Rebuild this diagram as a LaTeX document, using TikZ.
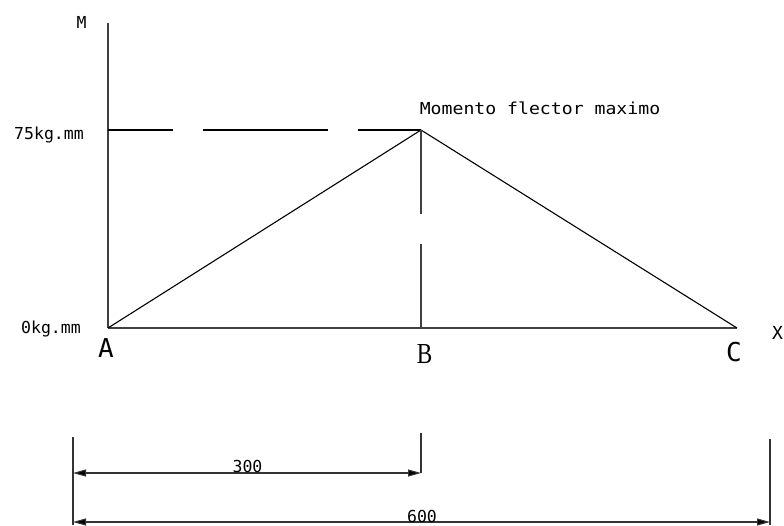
\documentclass[tikz,border=0pt]{standalone}
\usepackage{fontspec}
\setmonofont{DejaVu Sans Mono}
\newfontfamily\serifB{Liberation Serif}
\usetikzlibrary{arrows.meta}
\begin{document}
\begin{tikzpicture}[x=1pt,y=-1pt,
  axis/.style={draw=black!75, line width=1.1pt},
  diag/.style={draw=black, line width=1.1pt},
  dimline/.style={draw=black!80, line width=1.1pt},
  dimarrow/.style={dimline, {Triangle[length=13pt,width=7pt,fill=black]}-{Triangle[length=13pt,width=7pt,fill=black]}},
  lbl/.style={font=\ttfamily\fontsize{16.5}{18}\selectfont, anchor=base, inner sep=0pt},
  big/.style={font=\ttfamily\fontsize{26}{28}\selectfont, anchor=base, inner sep=0pt}]
\useasboundingbox (0,0) rectangle (784,525);
% points
\coordinate (O) at (108,328);
\coordinate (Mtop) at (108,23);
\coordinate (P) at (421,130);
\coordinate (Bb) at (421,328);
\coordinate (Cc) at (737,328);
\coordinate (Yp) at (108,130);
% axes
\draw[axis] (Mtop) -- (O);
\draw[axis] (O) -- (Cc);
% moment diagram
\draw[diag] (O) -- (P) -- (Cc);
% dashed guides
\draw[diag, dash pattern=on 65pt off 30pt on 125pt off 30pt on 70pt] (Yp) -- (P);
\draw[axis, dash pattern=on 84pt off 30pt on 90pt] (P) -- (Bb);
% dimension lines
\coordinate (L1) at (73,437);
\coordinate (L2) at (73,525);
\coordinate (M1) at (421,433);
\coordinate (M2) at (421,473);
\coordinate (R1) at (770,439);
\coordinate (R2) at (770,525);
\coordinate (D1a) at (73,473);
\coordinate (D2a) at (73,522);
\coordinate (D2b) at (770,522);
\draw[dimline] (L1) -- (L2);
\draw[dimline] (M1) -- (M2);
\draw[dimline] (R1) -- (R2);
\draw[dimarrow] (D1a) -- (M2);
\draw[dimarrow] (D2a) -- (D2b);
% labels
\node[lbl] (lM) at (81.5,28) {M};
\node[lbl] (l75) at (49,139) {75kg.mm};
\node[lbl] (l0) at (51,333) {0kg.mm};
\node[lbl] (lX) at (777.5,339) {\fontsize{18}{20}\selectfont X};
\node[lbl] (lmax) at (540,114) {\scalebox{1.1}[1]{Momento flector maximo}};
\node[big] (lA) at (106,357) {A};
\node[anchor=base, inner sep=0pt] (lB) at (424.5,363) {\serifB\fontsize{29}{30}\selectfont\scalebox{0.8}[1]{B}};
\node[big] (lC) at (734,361) {C};
\node[lbl] (l300) at (247.5,472) {300};
\node[lbl] (l600) at (422,522) {600};
\end{tikzpicture}
\end{document}
